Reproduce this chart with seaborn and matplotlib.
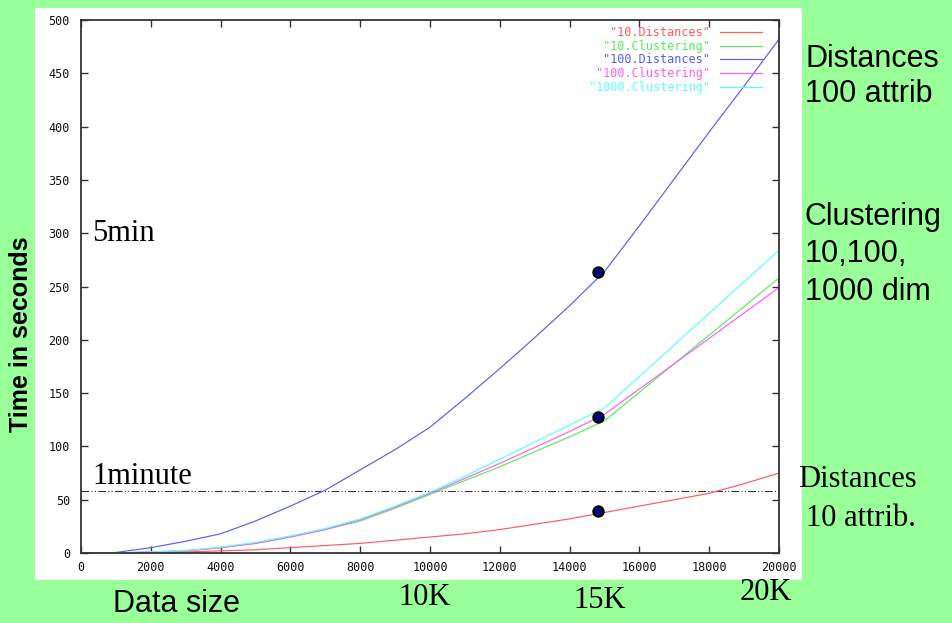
import pandas as pd
import matplotlib
matplotlib.use("Agg")
import matplotlib.pyplot as plt
from matplotlib.patches import Rectangle
import seaborn as sns

# --- Data ---
sizes = [0, 1000, 2000, 3000, 4000, 5000, 6000, 7000, 8000, 9000, 10000,
         11000, 12000, 13000, 14000, 15000, 16000, 17000, 18000, 19000, 20000]
dist_10 = [0, 0, 0.3, 1, 2, 3, 5, 7, 9, 12, 15, 18, 22, 27, 32, 38, 44, 50, 56, 65, 75]
dist_100 = [0, 0.5, 5, 11, 18, 30, 44, 59, 78, 97, 118, 145, 173, 202, 232, 264,
            307, 351, 395, 438, 482]

clust_sizes = [0, 1000, 2000, 3000, 4000, 5000, 6000, 7000, 8000, 9000, 10000,
               11000, 12000, 13000, 14000, 15000, 20000]
clust_10 = [0, 0, 1, 2, 5, 9, 15, 22, 30, 42, 55, 68, 81, 95, 109, 124, 258]
clust_100 = [0, 0, 1, 2, 5, 9, 15, 22, 31, 43, 56, 70, 84, 99, 114, 130, 249]
clust_1000 = [0, 0, 1, 2.5, 5.5, 10, 16, 23, 32, 44, 57, 72, 88, 104, 120, 136, 284]

series_names = ['"10.Distances"', '"10.Clustering"', '"100.Distances"',
                '"100.Clustering"', '"1000.Clustering"']
series_colors = ["#ff5c5c", "#5cec5c", "#5c5cff", "#ff5cff", "#5cffff"]

marked_x = [14800, 14800, 14800]
marked_y = [264, 128, 39]
one_minute = 58

x_ticks = list(range(0, 20001, 2000))
y_ticks = list(range(0, 501, 50))

# --- Long-form table ---
df = pd.concat([
    pd.DataFrame({"size": sizes, "time": dist_10, "series": series_names[0]}),
    pd.DataFrame({"size": clust_sizes, "time": clust_10, "series": series_names[1]}),
    pd.DataFrame({"size": sizes, "time": dist_100, "series": series_names[2]}),
    pd.DataFrame({"size": clust_sizes, "time": clust_100, "series": series_names[3]}),
    pd.DataFrame({"size": clust_sizes, "time": clust_1000, "series": series_names[4]}),
], ignore_index=True)

W, H = 952, 623


def px(x, y):
    return x / W, 1 - y / H


fig = plt.figure(figsize=(W / 100, H / 100), dpi=100)
fig.patch.set_facecolor("#99ff99")
fig.patches.append(Rectangle(px(35, 580), 767 / W, 572 / H, transform=fig.transFigure,
                             facecolor="white", edgecolor="none", zorder=-1))

ax = fig.add_axes([81 / W, 70 / H, 698 / W, 533 / H])
ax.set_facecolor("none")

sns.lineplot(data=df, x="size", y="time", hue="series", hue_order=series_names,
             palette=series_colors, linewidth=0.85, ax=ax)
ax.axhline(one_minute, color="#333333", linewidth=0.8,
           linestyle=(0, (7, 2, 1, 2, 1, 2)), zorder=1)
sns.scatterplot(x=marked_x, y=marked_y, s=55, color="#000080", edgecolor="black",
                linewidth=1.5, zorder=5, ax=ax, legend=False)

ax.set_xlim(0, 20000)
ax.set_ylim(0, 500)
ax.set_xticks(x_ticks)
ax.set_yticks(y_ticks)
ax.set_xlabel("")
ax.set_ylabel("")
ax.tick_params(direction="in", length=5, width=1, color="#333333",
               top=True, right=True, labelsize=8.5, labelcolor="#111111", pad=6)
ax.tick_params(axis="y", pad=8)
for lab in ax.get_xticklabels() + ax.get_yticklabels():
    lab.set_family("DejaVu Sans Mono")
for sp in ax.spines.values():
    sp.set_color("#333333")
    sp.set_linewidth(1.3)

handles, labels = ax.get_legend_handles_labels()
ax.legend(handles, labels, loc="upper right", frameon=False, markerfirst=False,
          labelcolor="linecolor", prop={"family": "DejaVu Sans Mono", "size": 8.5},
          handlelength=3.6, handletextpad=0.8, labelspacing=0.06,
          borderpad=0, borderaxespad=0,
          bbox_to_anchor=((762 - 81) / 698, (553 - 26) / 533))

# --- Annotations around the chart ---
serif = "Liberation Serif"
sans = "Liberation Sans"
fig.text(*px(92, 241), "5min", family=serif, fontsize=22, va="baseline")
fig.text(*px(92, 484), "1minute", family=serif, fontsize=22, va="baseline")
fig.text(*px(805, 67), "Distances", family=sans, fontsize=22, va="baseline")
fig.text(*px(805, 102), "100 attrib", family=sans, fontsize=22, va="baseline")
fig.text(*px(805, 225), "Clustering", family=sans, fontsize=22, va="baseline")
fig.text(*px(805, 262), "10,100,", family=sans, fontsize=22, va="baseline")
fig.text(*px(805, 300), "1000 dim", family=sans, fontsize=22, va="baseline")
fig.text(*px(857, 487), "Distances", family=serif, fontsize=22, va="baseline", ha="center")
fig.text(*px(861, 526), "10 attrib.", family=serif, fontsize=22, va="baseline", ha="center")
fig.text(*px(113, 612), "Data size", family=sans, fontsize=22, va="baseline")
fig.text(*px(425, 605), "10K", family=serif, fontsize=22, va="baseline", ha="center")
fig.text(*px(600, 608), "15K", family=serif, fontsize=22, va="baseline", ha="center")
fig.text(*px(766, 600), "20K", family=serif, fontsize=22, va="baseline", ha="center")
fig.text(*px(21, 334), "Time in seconds", family=sans, fontsize=18, fontweight="bold",
         rotation=90, ha="center", va="center")

fig.savefig("out.png", dpi=100, facecolor=fig.get_facecolor())
